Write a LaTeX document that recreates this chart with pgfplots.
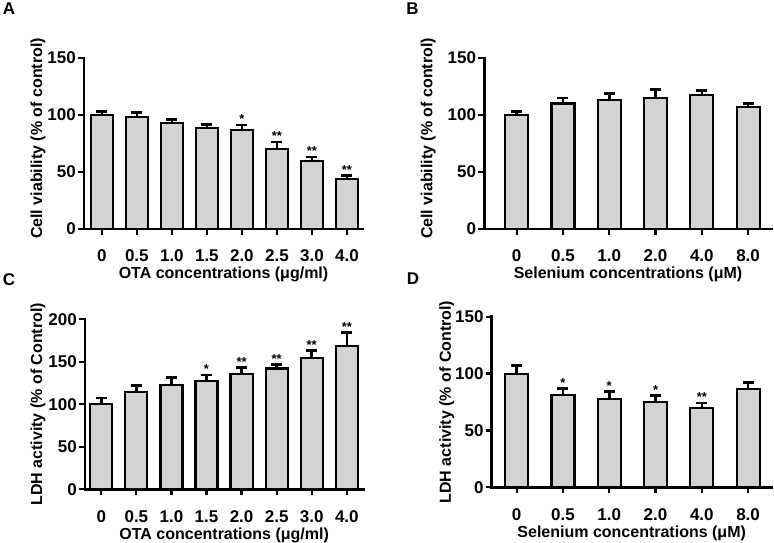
\documentclass[border=0pt]{standalone}
\usepackage{fontspec}
\setmainfont{Liberation Sans}
\usepackage{pgfplots}
\pgfplotsset{compat=1.18}
\definecolor{barfill}{HTML}{D3D3D3}
\newcommand\lab{\fontsize{16}{19}\selectfont\bfseries}
\newcommand\tlab{\fontsize{17}{20}\selectfont\bfseries}
\newcommand\stfont{\fontsize{13}{15}\selectfont\bfseries}
\newcommand\panfont{\fontsize{17}{20}\selectfont\bfseries}
\pgfplotsset{
  panel/.style={
    scale only axis, anchor=south west, clip=false,
    axis x line*=bottom, axis y line*=left,
    axis line style={line width=2.5pt, black, line cap=rect},
    tick style={line width=2.2pt, black},
    tick align=outside, major tick length=6pt, minor tick num=0,
    ymin=0,
    /pgf/number format/assume math mode=true,
    ticklabel style={font=\tlab},
    xticklabel style={anchor=base, yshift=-27pt, inner sep=0pt},
    yticklabel style={anchor=east, inner sep=0pt, xshift=-2pt},
    label style={font=\lab},
    xlabel style={at={(axis description cs:0.5,0)}, anchor=base, yshift=-50pt},
  },
  bars/.style={ybar, bar width=#1, fill=barfill, draw=black, line width=2.2pt,
    error bars/.cd, y dir=plus, y explicit,
    error bar style={line width=2.5pt, black},
    error mark options={rotate=90, line width=2.5pt, black, mark size=5.5pt}},
  stars/.style={draw=none, mark=none, nodes near coords, point meta=explicit symbolic,
    every node near coord/.append style={font=\stfont, anchor=south, inner sep=0pt, yshift=1pt}},
}
\begin{document}
\begin{tikzpicture}
\useasboundingbox (0pt,0pt) rectangle (774pt,543pt);

% ---------- A ----------
\begin{axis}[panel, at={(84pt,314pt)}, width=279pt, height=171pt,
  xmin=-0.51, xmax=7.46, ymax=150, ytick={0,50,100,150},
  xtick={0,...,7}, xticklabels={0,0.5,1.0,1.5,2.0,2.5,3.0,4.0},
  xlabel={OTA concentrations (μg/ml)},
  ylabel={Cell viability (\% of control)},
  ylabel style={at={([xshift=-46pt,yshift=5pt]axis description cs:0,0.5)}, anchor=center}]
\addplot[bars=22pt] table[x=x, y=y, y error=e] {
x y e
0 100 3
1 98.5 3.5
2 92.7 3.2
3 88.6 3.2
4 86.8 4.4
5 69.9 6.4
6 59.6 3.6
7 43.9 3.2
};
\addplot[stars] table[x=x, y=y, meta=s] {
x y s
4 91.2 *
5 76.3 **
6 63.2 **
7 47.1 **
};
\end{axis}

% ---------- B ----------
\begin{axis}[panel, at={(484.3pt,314pt)}, width=287.4pt, height=171pt,
  xmin=-0.70, xmax=5.51, ymax=150, ytick={0,50,100,150},
  xtick={0,...,5}, xticklabels={0,0.5,1.0,2.0,4.0,8.0},
  xlabel={Selenium concentrations (μM)},
  ylabel={Cell viability (\% of control)},
  ylabel style={at={([xshift=-56pt,yshift=5pt]axis description cs:0,0.5)}, anchor=center}]
\addplot[bars=23pt] table[x=x, y=y, y error=e] {
x y e
0 100 3
1 110 4.7
2 113.2 5.8
3 115.2 7.3
4 117.3 4.4
5 106.7 3.5
};
\end{axis}

% ---------- C ----------
\begin{axis}[panel, at={(85pt,53.7pt)}, width=278.3pt, height=170pt,
  xmin=-0.465, xmax=7.47, ymax=200, ytick={0,50,100,150,200},
  xtick={0,...,7}, xticklabels={0,0.5,1.0,1.5,2.0,2.5,3.0,4.0},
  xlabel={OTA concentrations (μg/ml)},
  ylabel={LDH activity (\% of Control)},
  ylabel style={at={([xshift=-47pt]axis description cs:0,0.5)}, anchor=center}]
\addplot[bars=22pt] table[x=x, y=y, y error=e] {
x y e
0 100.4 7
1 114.5 7.5
2 123.1 8.6
3 127 7.5
4 135.3 8.2
5 142 5
6 154 9.4
7 168.6 15.7
};
\addplot[stars] table[x=x, y=y, meta=s] {
x y s
3 134.5 *
4 143.5 **
5 147 **
6 163.4 **
7 184.3 **
};
\end{axis}

% ---------- D ----------
\begin{axis}[panel, at={(491.7pt,55.7pt)}, width=280pt, height=170.6pt,
  xmin=-0.54, xmax=5.51, ymax=150, ytick={0,50,100,150},
  xtick={0,...,5}, xticklabels={0,0.5,1.0,2.0,4.0,8.0},
  xlabel={Selenium concentrations (μM)},
  ylabel={LDH activity (\% of Control)},
  ylabel style={at={([xshift=-45pt]axis description cs:0,0.5)}, anchor=center}]
\addplot[bars=23pt] table[x=x, y=y, y error=e] {
x y e
0 99.9 7.3
1 81.5 5.2
2 77.9 6.2
3 74.7 5.9
4 69.7 4.4
5 86.7 5.6
};
\addplot[stars] table[x=x, y=y, meta=s] {
x y s
1 86.7 *
2 84.1 *
3 80.6 *
4 74.1 **
};
\end{axis}

\node[font=\panfont, anchor=center] at (9pt,534pt) {A};
\node[font=\panfont, anchor=center] at (412.5pt,534pt) {B};
\node[font=\panfont, anchor=center] at (9pt,263pt) {C};
\node[font=\panfont, anchor=center] at (413pt,264pt) {D};
\end{tikzpicture}
\end{document}
